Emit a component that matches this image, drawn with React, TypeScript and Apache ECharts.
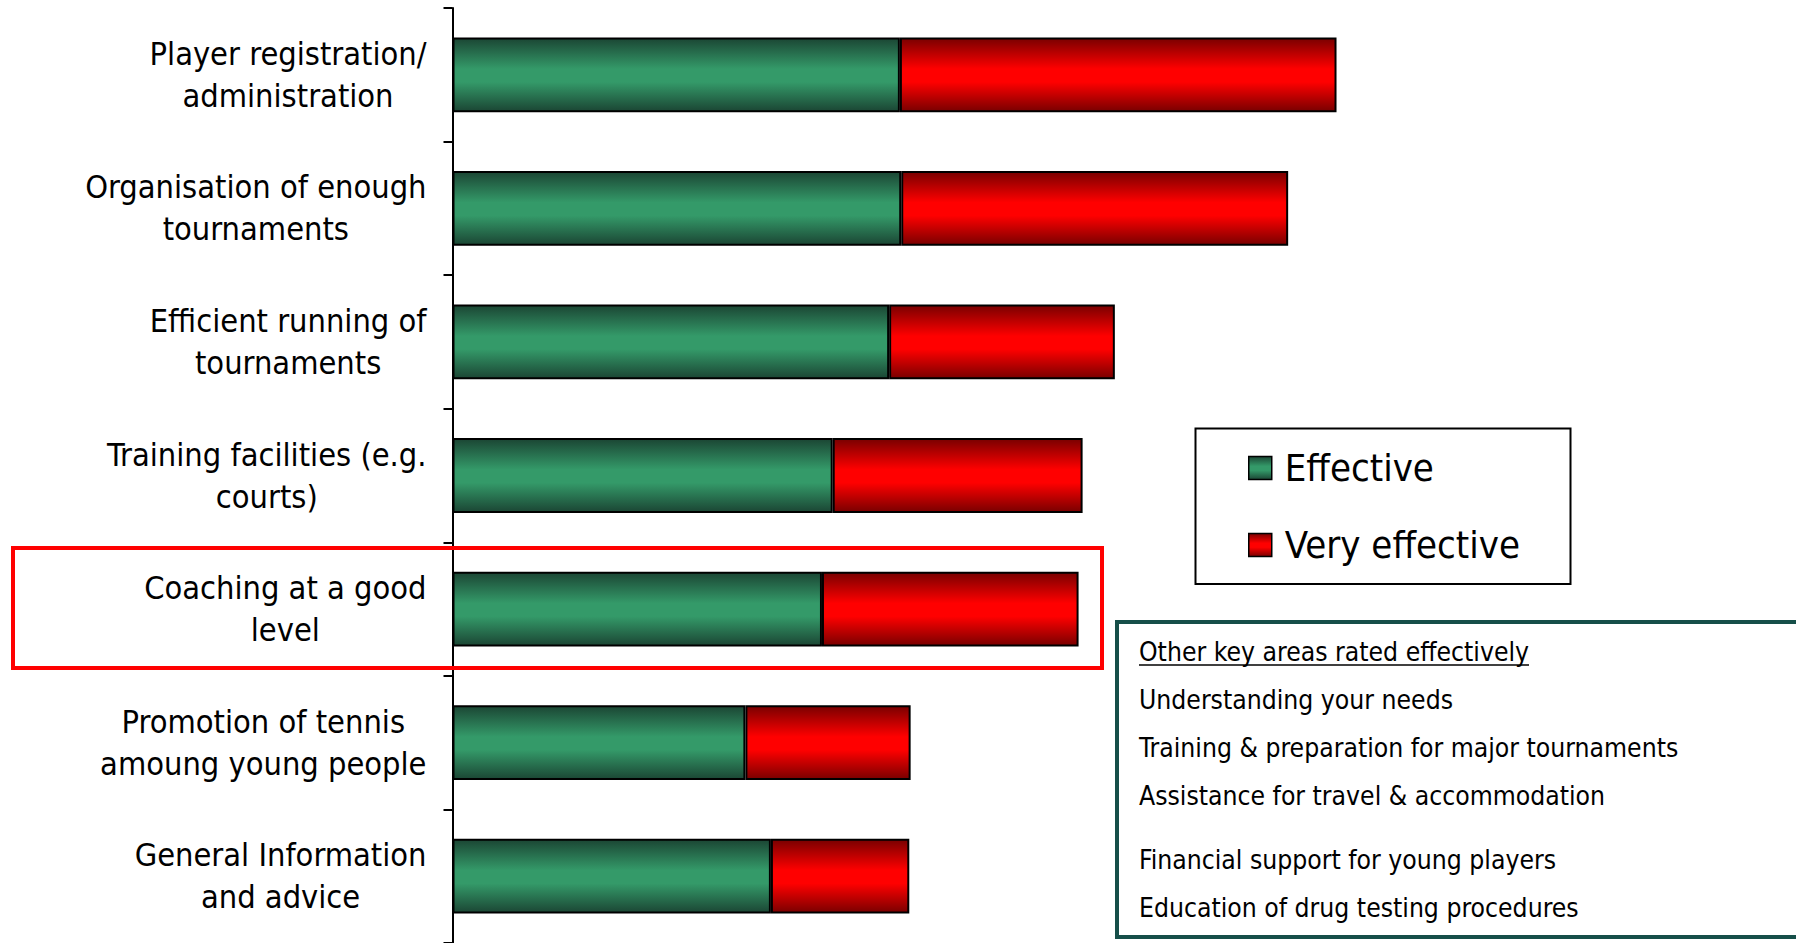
import React, { useEffect, useRef } from "react";
import * as echarts from "echarts";

const categories = [
  "Player registration/\nadministration",
  "Organisation of enough\ntournaments",
  "Efficient running of\ntournaments",
  "Training facilities (e.g.\ncourts)",
  "Coaching at a good\nlevel",
  "Promotion of tennis\namoung young people",
  "General Information\nand advice",
];
const effective = [33.3, 33.4, 32.5, 28.3, 27.5, 21.8, 23.7];
const veryEffective = [32.5, 28.8, 16.8, 18.6, 19.1, 12.3, 10.3];
const seriesNames = ["Effective", "Very effective"];
const otherTitle = "Other key areas rated effectively";
const otherAreas = [
  "Understanding your needs",
  "Training & preparation for major tournaments",
  "Assistance for travel & accommodation",
  "Financial support for young players",
  "Education of drug testing procedures",
];

const FONT = "'DejaVu Sans Condensed', 'DejaVu Sans', sans-serif";

const grad = (edge: string, mid: string) =>
  new echarts.graphic.LinearGradient(0, 0, 0, 1, [
    { offset: 0, color: edge },
    { offset: 0.42, color: mid },
    { offset: 0.6, color: mid },
    { offset: 1, color: edge },
  ]);

export default function App() {
  const ref = useRef<HTMLDivElement>(null);
  useEffect(() => {
    if (!ref.current) return;
    const chart = echarts.init(ref.current, undefined, { renderer: "svg" });

    const ctx = document.createElement("canvas").getContext("2d")!;
    ctx.font = `26.3px ${FONT}`;
    const titleW = ctx.measureText(otherTitle).width;

    const itemYs = [700, 748, 796, 860, 908];
    const boxX = 1139;

    const green = grad("#1b4634", "#349a69");
    const red = grad("#7a0000", "#ff0000");

    chart.setOption({
      animation: false,
      backgroundColor: "#ffffff",
      grid: { left: 452.5, top: 8, width: 1343.5, height: 938, containLabel: false },
      xAxis: { type: "value", min: 0, max: 100, show: false },
      yAxis: {
        type: "category",
        inverse: true,
        data: categories,
        axisLine: { show: true, lineStyle: { color: "#000", width: 2 } },
        axisTick: { show: true, length: 9, lineStyle: { color: "#000", width: 2 } },
        axisLabel: {
          margin: 26,
          color: "#000",
          formatter: (v: string) => v.split("\n").map((l) => `{c|${l}}`).join("\n"),
          rich: {
            c: { align: "center", fontSize: 32.3, lineHeight: 42, fontFamily: FONT, color: "#000" },
          },
        },
        splitLine: { show: false },
      },
      legend: {
        orient: "vertical",
        left: 1243,
        top: 441,
        itemWidth: 23,
        itemHeight: 23,
        itemGap: 33,
        icon: "rect",
        data: seriesNames,
        itemStyle: { borderColor: "#000", borderWidth: 1.5 },
        textStyle: { fontSize: 38, lineHeight: 44, fontFamily: FONT, color: "#000", padding: [0, 0, 0, 8] },
      },
      series: [
        {
          name: seriesNames[0],
          type: "bar",
          stack: "total",
          barCategoryGap: "44%",
          data: effective,
          itemStyle: { color: green, borderColor: "#000", borderWidth: 2 },
        },
        {
          name: seriesNames[1],
          type: "bar",
          stack: "total",
          barCategoryGap: "44%",
          data: veryEffective,
          itemStyle: { color: red, borderColor: "#000", borderWidth: 2 },
        },
      ],
      graphic: [
        {
          type: "rect",
          z: 10,
          shape: { x: 13, y: 548, width: 1089, height: 120 },
          style: { fill: "none", stroke: "#ff0000", lineWidth: 4 },
        },
        {
          type: "rect",
          z: 1,
          shape: { x: 1195.5, y: 428.5, width: 375, height: 155.5 },
          style: { fill: "none", stroke: "#000", lineWidth: 2 },
        },
        {
          type: "rect",
          z: 10,
          shape: { x: 1117, y: 622, width: 720, height: 315 },
          style: { fill: "#fff", stroke: "#164f49", lineWidth: 4 },
        },
        {
          type: "text",
          z: 11,
          x: boxX,
          y: 652,
          style: { text: otherTitle, fontSize: 26.3, fontFamily: FONT, fill: "#000", verticalAlign: "middle", align: "left" },
        },
        {
          type: "line",
          z: 11,
          shape: { x1: boxX, y1: 665, x2: boxX + titleW, y2: 665 },
          style: { stroke: "#000", lineWidth: 1.5 },
        },
        ...otherAreas.map((t, i) => ({
          type: "text",
          z: 11,
          x: boxX,
          y: itemYs[i],
          style: { text: t, fontSize: 26.3, fontFamily: FONT, fill: "#000", verticalAlign: "middle", align: "left" },
        })),
      ],
    });
    return () => chart.dispose();
  }, []);
  return (
    <div
      ref={ref}
      style={{ position: "fixed", left: 0, top: 0, width: 1796, height: 943, background: "#fff" }}
    />
  );
}
